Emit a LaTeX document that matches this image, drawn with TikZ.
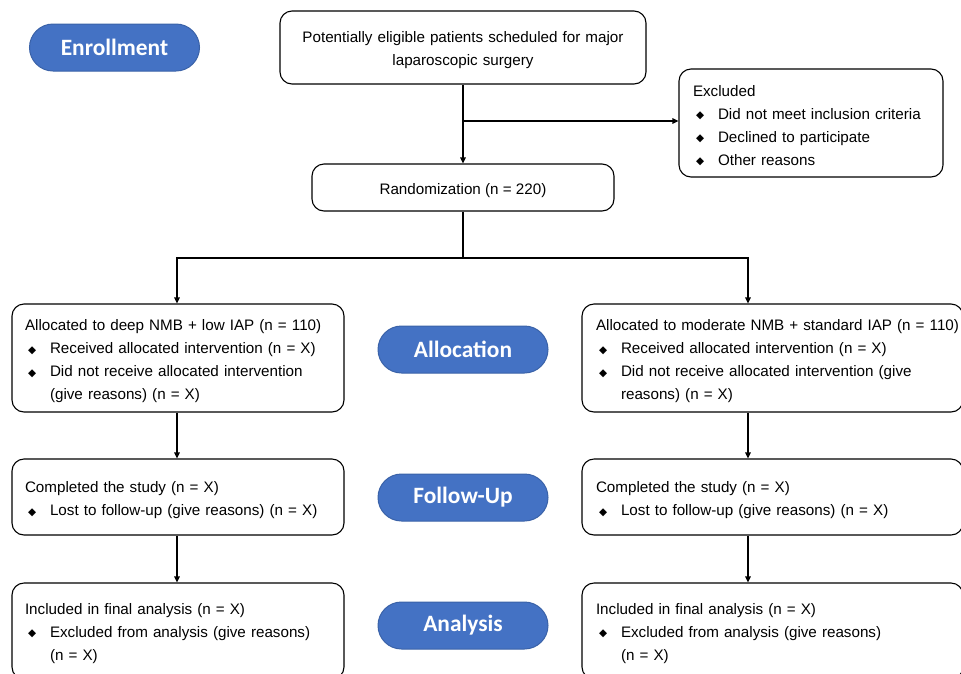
\documentclass[tikz,border=0pt]{standalone}
\usepackage{fontspec}
\setmainfont{Liberation Sans}
\newfontfamily\djfont{DejaVu Sans}
\newfontfamily\pillfont{Carlito}
\usetikzlibrary{arrows.meta,calc}
\setlength{\parindent}{0pt}
\newcommand{\dmd}{\makebox[25pt][l]{\hspace{3pt}\raisebox{0.5pt}{\djfont\fontsize{10.5}{10.5}\selectfont ◆}}}
\newcommand{\hang}{\hspace*{25pt}}
\definecolor{pillblue}{HTML}{4472C4}
\definecolor{pillborder}{HTML}{3A62A8}
\tikzset{
  frame/.style={draw=black, line width=1.1pt, rounded corners=12pt, fill=white, inner sep=0pt},
  txt/.style={font=\fontsize{15.2}{23}\selectfont, align=left, inner sep=0pt},
  pill/.style={draw=pillborder, line width=1pt, fill=pillblue, rounded corners=23.5pt,
    minimum width=170pt, minimum height=47pt, text=white, inner sep=0pt,
    font=\pillfont\bfseries\fontsize{23.4}{23.4}\selectfont},
  arr/.style={line width=1.1pt, -{Triangle[length=6pt,width=5.5pt]}},
  ln/.style={line width=1.1pt}
}
\begin{document}
\begin{tikzpicture}[x=1pt,y=-1pt]
\useasboundingbox (0,0) rectangle (961,673);
\clip (0,0) rectangle (961,673);

% pills
\node[pill] (penr) at (114.5,47.5) {Enrollment};
\node[pill] (palloc) at (463,349.5) {Allocation};
\node[pill] (pfol) at (463,497.5) {Follow-Up};
\node[pill] (pana) at (463,625.5) {Analysis};

% frames
\node[frame, minimum width=366pt, minimum height=73pt] (top) at (463,47.5) {};
\node[frame, minimum width=264pt, minimum height=108pt] (excl) at (811,123) {};
\node[frame, minimum width=302pt, minimum height=47pt] (rand) at (463,187.5) {};
\node[frame, minimum width=332pt, minimum height=108pt] (al) at (178,358) {};
\node[frame, minimum width=332pt, minimum height=76pt] (fl) at (178,497) {};
\node[frame, minimum width=332pt, minimum height=96pt] (nl) at (178,631) {};
\node[frame, minimum width=381pt, minimum height=108pt] (ar) at (772.5,358) {};
\node[frame, minimum width=381pt, minimum height=76pt] (fr) at (772.5,497) {};
\node[frame, minimum width=381pt, minimum height=96pt] (nr) at (772.5,631) {};

% texts
\node[txt, text width=350pt, align=center] (topt) at ($(top)+(0,3)$)
  {Potentially eligible patients scheduled for major\\laparoscopic surgery};
\node[txt, text width=236pt] (exclt) at ($(excl)+(0,2.5)$)
  {\mbox{Excluded}\\
   \mbox{\dmd Did not meet inclusion criteria}\\
   \mbox{\dmd Declined to participate}\\
   \mbox{\dmd Other reasons}};
\node[txt, align=center] (randt) at ($(rand)+(0,3)$) {Randomization (n = 220)};

\node[txt, text width=306pt] (alt) at ($(al)+(0,3.5)$)
  {\mbox{Allocated to deep NMB + low IAP (n = 110)}\\
   \mbox{\dmd Received allocated intervention (n = X)}\\
   \mbox{\dmd Did not receive allocated intervention}\\
   \mbox{\hang(give reasons) (n = X)}};
\node[txt, text width=306pt] (flt) at ($(fl)+(0,3.5)$)
  {\mbox{Completed the study (n = X)}\\
   \mbox{\dmd Lost to follow-up (give reasons) (n = X)}};
\node[txt, text width=306pt] (nlt) at ($(nl)+(0,2.5)$)
  {\mbox{Included in final analysis (n = X)}\\
   \mbox{\dmd Excluded from analysis (give reasons)}\\
   \mbox{\hang(n = X)}};

\node[txt, text width=353pt] (art) at ($(ar)+(0,3.5)$)
  {\mbox{Allocated to moderate NMB + standard IAP (n = 110)}\\
   \mbox{\dmd Received allocated intervention (n = X)}\\
   \mbox{\dmd Did not receive allocated intervention (give}\\
   \mbox{\hang reasons) (n = X)}};
\node[txt, text width=353pt] (frt) at ($(fr)+(0,3.5)$)
  {\mbox{Completed the study (n = X)}\\
   \mbox{\dmd Lost to follow-up (give reasons) (n = X)}};
\node[txt, text width=353pt] (nrt) at ($(nr)+(0,2.5)$)
  {\mbox{Included in final analysis (n = X)}\\
   \mbox{\dmd Excluded from analysis (give reasons)}\\
   \mbox{\hang(n = X)}};

% connectors
\coordinate (b1) at (463,121);
\coordinate (split) at (463,258);
\coordinate (lc) at (177,0);
\coordinate (rc) at (748,0);

\draw[arr] (top.south) -- (rand.north);
\draw[arr] (b1) -- (b1 -| excl.west);
\draw[ln] (rand.south) -- (split);
\draw[arr] (split) -| (al.north -| lc);
\draw[arr] (split) -| (ar.north -| rc);
\draw[arr] (al.south -| lc) -- (fl.north -| lc);
\draw[arr] (fl.south -| lc) -- (nl.north -| lc);
\draw[arr] (ar.south -| rc) -- (fr.north -| rc);
\draw[arr] (fr.south -| rc) -- (nr.north -| rc);
\end{tikzpicture}
\end{document}
